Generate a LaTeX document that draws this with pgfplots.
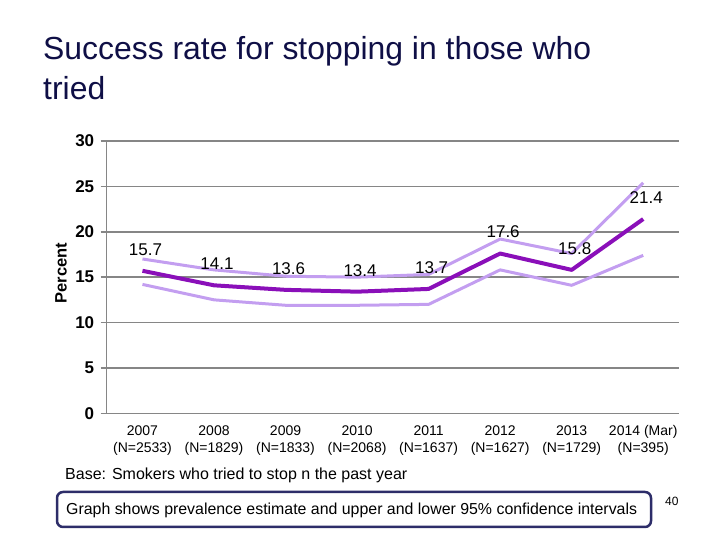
\documentclass[border=0pt]{standalone}
\usepackage{pgfplots}
\pgfplotsset{compat=1.18}
\usepackage{fontspec}
\setmainfont{Liberation Sans}
\definecolor{lav}{RGB}{195,158,240}
\definecolor{mainp}{RGB}{138,15,185}
\definecolor{gridg}{RGB}{134,134,134}
\definecolor{navy}{RGB}{45,45,105}
\definecolor{titlec}{RGB}{15,15,70}
\begin{document}
\begin{tikzpicture}[x=1pt,y=1pt]
\useasboundingbox (0,0) rectangle (720,540);
\node[anchor=base west, inner sep=0pt, text=titlec, font=\fontsize{31.9}{36}\selectfont] at (43,480) {Success rate for stopping in those who};
\node[anchor=base west, inner sep=0pt, text=titlec, font=\fontsize{31.9}{36}\selectfont] at (43,440) {tried};
\begin{axis}[
  at={(106.7pt,126.7pt)}, anchor=south west,
  scale only axis, width=572.3pt, height=272.3pt,
  xmin=-0.5, xmax=7.5, ymin=0, ymax=30,
  axis lines=left, axis line style={-, gridg, line width=1.5pt},
  ytick={0,5,...,30},
  ymajorgrids, grid style={gridg, line width=1.5pt},
  tick align=outside, major tick length=6pt, minor tick length=4pt,
  tick style={gridg, line width=1.5pt},
  xtick={0,...,7}, xtick style={draw=none},
  minor xtick={-0.5,0.5,...,7.5},
  xticklabels={{\strut 2007\\(N=2533)},{\strut 2008\\(N=1829)},{\strut 2009\\(N=1833)},{\strut 2010\\(N=2068)},{\strut 2011\\(N=1637)},{\strut 2012\\(N=1627)},{\strut 2013\\(N=1729)},{\strut 2014 (Mar)\\(N=395)}},
  xticklabel style={align=center, font=\fontsize{14}{17}\selectfont, yshift=-1pt},
  yticklabel style={font=\bfseries\fontsize{17}{17}\selectfont, xshift=-3pt},
  /pgf/number format/assume math mode=true,
  clip=false,
]
\addplot[lav, line width=3pt, line join=round] coordinates {(0,17.0) (1,15.8) (2,15.1) (3,15.0) (4,15.3) (5,19.2) (6,17.6) (7,25.4)};
\addplot[lav, line width=3pt, line join=round] coordinates {(0,14.2) (1,12.5) (2,11.9) (3,11.9) (4,12.0) (5,15.8) (6,14.1) (7,17.4)};
\addplot[mainp, line width=4pt, line join=round,
  nodes near coords, point meta=y,
  nodes near coords style={black, anchor=center, yshift=21.5pt, xshift=3pt, font=\fontsize{17}{17}\selectfont, /pgf/number format/.cd, fixed, fixed zerofill, precision=1}]
  coordinates {(0,15.7) (1,14.1) (2,13.6) (3,13.4) (4,13.7) (5,17.6) (6,15.8) (7,21.4)};
\end{axis}
\node[rotate=90, inner sep=0pt, font=\bfseries\fontsize{16.5}{16}\selectfont] at (61,267) {Percent};
\node[anchor=base west, inner sep=0pt, font=\fontsize{16}{16}\selectfont] at (65,60) {Base: Smokers who tried to stop n the past year};
\draw[navy, line width=2.5pt, rounded corners=6pt] (57,13) rectangle (651,48);
\node[anchor=base west, inner sep=0pt, font=\fontsize{15.9}{16}\selectfont] at (66,25) {Graph shows prevalence estimate and upper and lower 95\% confidence intervals};
\node[anchor=base west, inner sep=0pt, font=\fontsize{12}{12}\selectfont] at (665,34) {40};
\end{tikzpicture}
\end{document}
